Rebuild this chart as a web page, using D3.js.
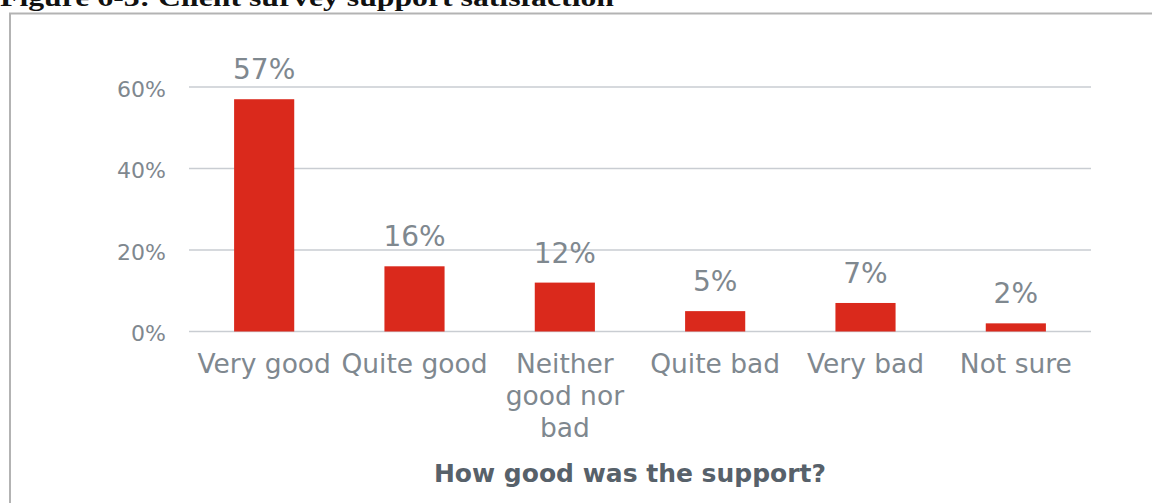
<!DOCTYPE html>
<html>
<head>
<meta charset="utf-8">
<script src="https://cdn.jsdelivr.net/npm/d3@7"></script>
<style>
  html, body { margin: 0; padding: 0; background: #fff; }
  svg { display: block; }
</style>
</head>
<body>
<svg id="chart" width="1152" height="503"></svg>
<script>
// Survey answers: share of clients per rating of the support received
const categories = ["Very good", "Quite good", "Neither\ngood nor\nbad", "Quite bad", "Very bad", "Not sure"];
const shares = [0.57, 0.16, 0.12, 0.05, 0.07, 0.02];
const yTicks = [0, 0.2, 0.4, 0.6];
const figureTitle = "Figure 6-3: Client survey support satisfaction";
const axisTitle = "How good was the support?";

const svg = d3.select("#chart");
const chartFont = "'DejaVu Sans', 'Noto Sans', sans-serif";
const labelGrey = "#7f888f";

// Figure caption (sits partly above the page top)
svg.append("text")
  .attr("x", 0)
  .attr("y", 6)
  .attr("font-family", "'Liberation Serif', 'DejaVu Serif', serif")
  .attr("font-weight", "bold")
  .attr("font-size", 25)
  .attr("fill", "#111")
  .attr("textLength", 614)
  .attr("lengthAdjust", "spacingAndGlyphs")
  .text(figureTitle);

// Frame around the chart
svg.append("rect")
  .attr("x", 10)
  .attr("y", 13.5)
  .attr("width", 1200)
  .attr("height", 600)
  .attr("fill", "none")
  .attr("stroke", "#b3b3b3")
  .attr("stroke-width", 2);

const x = d3.scaleBand()
  .domain(categories)
  .range([189, 1091])
  .paddingInner(0.6)
  .paddingOuter(0.3);

const y = d3.scaleLinear()
  .domain([0, 0.6])
  .range([331.5, 87]);

// Horizontal gridlines
svg.append("g")
  .selectAll("line")
  .data(yTicks)
  .join("line")
  .attr("x1", 189)
  .attr("x2", 1091)
  .attr("y1", d => y(d))
  .attr("y2", d => y(d))
  .attr("stroke", "#c9cdd2")
  .attr("stroke-width", 1.5);

// Y axis labels
const yAxis = d3.axisLeft(y)
  .tickValues(yTicks)
  .tickFormat(d3.format(".0%"))
  .tickSize(0)
  .tickPadding(0);

svg.append("g")
  .attr("transform", "translate(166,0)")
  .call(yAxis)
  .call(g => g.select(".domain").remove())
  .call(g => g.selectAll("text")
    .attr("font-family", chartFont)
    .attr("font-size", 22)
    .attr("fill", labelGrey)
    .attr("dy", "0.42em"));

// Bars
svg.append("g")
  .selectAll("rect")
  .data(shares)
  .join("rect")
  .attr("x", (d, i) => x(categories[i]))
  .attr("y", d => y(d))
  .attr("width", x.bandwidth())
  .attr("height", d => y(0) - y(d))
  .attr("fill", "#da291c");

// Value labels above the bars
svg.append("g")
  .selectAll("text")
  .data(shares)
  .join("text")
  .attr("x", (d, i) => x(categories[i]) + x.bandwidth() / 2)
  .attr("y", d => y(d) - 20)
  .attr("text-anchor", "middle")
  .attr("font-family", chartFont)
  .attr("font-size", 28)
  .attr("fill", labelGrey)
  .text(d => d3.format(".0%")(d));

// Category labels (multi-line where needed)
const xAxis = d3.axisBottom(x).tickSize(0).tickPadding(0);
svg.append("g")
  .attr("transform", "translate(0,331.5)")
  .call(xAxis)
  .call(g => g.select(".domain").remove())
  .call(g => g.selectAll(".tick text")
    .attr("font-family", chartFont)
    .attr("font-size", 26.5)
    .attr("fill", labelGrey)
    .attr("y", 0)
    .attr("dy", null)
    .text(null)
    .each(function(d) {
      const t = d3.select(this);
      d.split("\n").forEach((line, k) => {
        t.append("tspan")
          .attr("x", 0)
          .attr("y", 41.5 + k * 32)
          .text(line);
      });
    }));

// Axis title
svg.append("text")
  .attr("x", 630)
  .attr("y", 482)
  .attr("text-anchor", "middle")
  .attr("font-family", chartFont)
  .attr("font-weight", "bold")
  .attr("font-size", 25)
  .attr("fill", "#57616a")
  .text(axisTitle);
</script>
</body>
</html>
